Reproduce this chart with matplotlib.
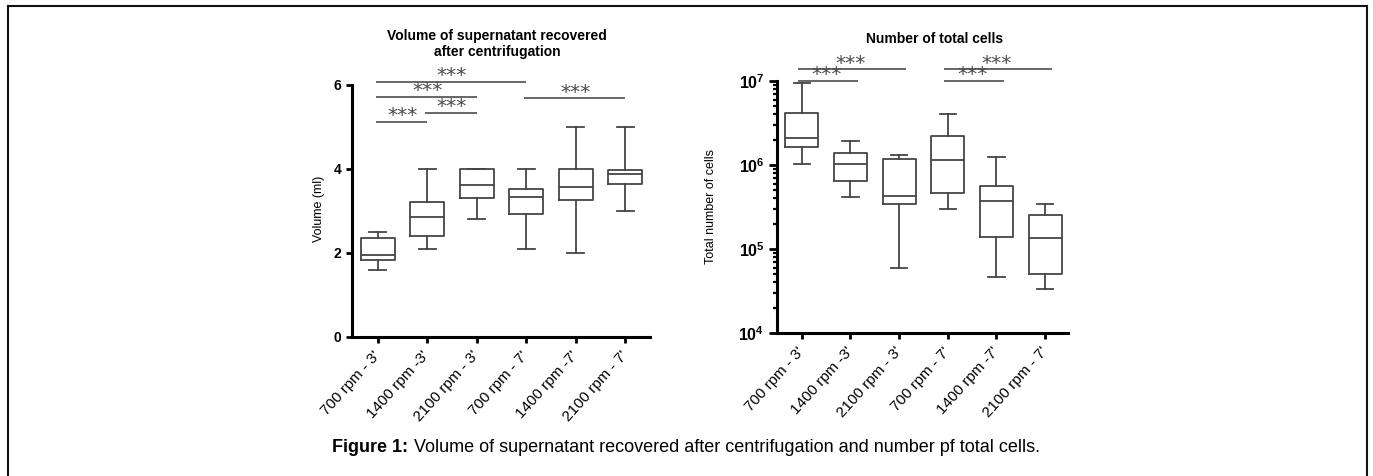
import math
import matplotlib
matplotlib.use('Agg')
import matplotlib.pyplot as plt
from matplotlib.lines import Line2D
from matplotlib.ticker import LogLocator, FixedLocator, NullFormatter, FuncFormatter

plt.rcParams['font.family'] = ['Liberation Sans', 'DejaVu Sans']
plt.rcParams['mathtext.fontset'] = 'custom'
plt.rcParams['mathtext.rm'] = 'Liberation Sans'
plt.rcParams['mathtext.bf'] = 'Liberation Sans:bold'

# ---------------- data ----------------
groups = ["700 rpm - 3'", "1400 rpm -3'", "2100 rpm - 3'",
          "700 rpm - 7'", "1400 rpm -7'", "2100 rpm - 7'"]

vol_whislo = [1.6, 2.1, 2.8, 2.1, 2.0, 3.0]
vol_q1 = [1.83, 2.40, 3.32, 2.94, 3.26, 3.64]
vol_med = [1.95, 2.86, 3.62, 3.33, 3.56, 3.87]
vol_q3 = [2.35, 3.21, 4.0, 3.52, 4.0, 3.98]
vol_whishi = [2.5, 4.0, 4.0, 4.0, 5.0, 5.0]

cell_whislo = [1.03e6, 4.2e5, 6.0e4, 3.0e5, 4.7e4, 3.3e4]
cell_q1 = [1.65e6, 6.5e5, 3.4e5, 4.7e5, 1.38e5, 5.0e4]
cell_med = [2.1e6, 1.02e6, 4.3e5, 1.15e6, 3.75e5, 1.35e5]
cell_q3 = [4.2e6, 1.4e6, 1.17e6, 2.2e6, 5.7e5, 2.55e5]
cell_whishi = [9.5e6, 1.93e6, 1.31e6, 4.1e6, 1.26e6, 3.45e5]

# significance brackets: (from group, to group, level)
vol_sig = [(1, 4, 6.08), (1, 3, 5.72), (2, 3, 5.34), (1, 2, 5.13), (4, 6, 5.68)]
cell_sig = [(1, 3, 1.38e7), (1, 2, 1.0e7), (4, 6, 1.38e7), (4, 5, 1.0e7)]
sig_label = '***'

vol_yticks = [0, 2, 4, 6]
cell_yticks = [1e4, 1e5, 1e6, 1e7]

# ---------------- figure ----------------
W, H = 1373, 476
fig = plt.figure(figsize=(W / 100, H / 100), dpi=100)

box_c = '#454545'
box_lw = 1.3
line_c = '#666666'
star_c = '#4a4a4a'


def style_axes(ax):
    for s in ['top', 'right']:
        ax.spines[s].set_visible(False)
    for s in ['left', 'bottom']:
        ax.spines[s].set_linewidth(2.2)
        ax.spines[s].set_color('black')
    ax.tick_params(axis='both', which='major', direction='out', width=2.0,
                   length=4.3, color='black')
    ax.tick_params(axis='y', which='minor', direction='out', width=1.6,
                   length=2.6, color='black')
    ax.set_xticks(range(1, len(groups) + 1))
    ax.set_xticklabels(groups, rotation=48, ha='right', va='center',
                       rotation_mode='anchor', fontsize=11)
    ax.tick_params(axis='x', pad=7.5)


def draw_boxes(ax, lo, q1, med, q3, hi):
    stats = [dict(whislo=a, q1=b, med=c, q3=d, whishi=e, fliers=[])
             for a, b, c, d, e in zip(lo, q1, med, q3, hi)]
    p = dict(color=box_c, linewidth=box_lw)
    ax.bxp(stats, positions=range(1, len(stats) + 1), widths=0.68,
           showfliers=False, boxprops=p, whiskerprops=p, capprops=p,
           medianprops=p)


def draw_sig(ax, sig, ext_l, ext_r):
    for i, j, y in sig:
        ax.plot([i - ext_l, j + ext_r], [y, y], color=line_c, lw=1.4,
                clip_on=False, solid_capstyle='butt')
        ax.annotate(sig_label, xy=((i + j) / 2, y), xytext=(0, 4.5),
                    textcoords='offset points', ha='center', va='center',
                    fontsize=14.5, color=star_c, family='DejaVu Sans',
                    annotation_clip=False)


# ---- left panel ----
axL = fig.add_axes([352 / W, 1 - 337 / H, 298 / W, 252 / H])
draw_boxes(axL, vol_whislo, vol_q1, vol_med, vol_q3, vol_whishi)
axL.set_xlim(0.48, 6.5)
axL.set_ylim(0, 6)
axL.set_yticks(vol_yticks)
style_axes(axL)
axL.set_yticklabels([str(v) for v in vol_yticks], fontsize=10,
                    fontweight='bold')
axL.set_ylabel('Volume (ml)', fontsize=9)
axL.yaxis.set_label_coords(-0.09, 0.51)
draw_sig(axL, vol_sig, 0.04, 0.0)

# ---- right panel ----
axR = fig.add_axes([777 / W, 1 - 333 / H, 291 / W, 252 / H])
draw_boxes(axR, cell_whislo, cell_q1, cell_med, cell_q3, cell_whishi)
axR.set_yscale('log')
axR.set_xlim(0.49, 6.47)
axR.set_ylim(1e4, 1e7)
axR.yaxis.set_major_locator(FixedLocator(cell_yticks))
axR.yaxis.set_minor_locator(LogLocator(base=10, subs=range(2, 10)))
axR.yaxis.set_minor_formatter(NullFormatter())
axR.yaxis.set_major_formatter(FuncFormatter(
    lambda v, p: r'$\mathbf{10^{%d}}$' % round(math.log10(v))))
style_axes(axR)
axR.tick_params(axis='y', which='major', length=5.5)
for t in axR.get_yticklabels():
    t.set_fontsize(11.5)
axR.set_ylabel('Total number of cells', fontsize=9)
axR.yaxis.set_label_coords(-0.206, 0.5)
draw_sig(axR, cell_sig, 0.08, 0.15)

# ---- titles ----
fig.text(497 / W, 1 - 44 / H, 'Volume of supernatant recovered\nafter centrifugation',
         ha='center', va='center', fontsize=10, fontweight='bold',
         linespacing=1.1)
fig.text(935 / W, 1 - 39 / H, 'Number of total cells', ha='center',
         va='center', fontsize=10, fontweight='bold')

# ---- frame (left, top, right) ----
for xs, ys in [([7.5, 7.5], [H + 5, 5.5]), ([7.5, 1367], [5.5, 5.5]),
               ([1367, 1367], [5.5, H + 5])]:
    fig.add_artist(Line2D([x / W for x in xs], [1 - y / H for y in ys],
                          transform=fig.transFigure, color='#111111', lw=1.5))

# ---- caption ----
cap_y = 1 - 447 / H
t1 = fig.text(0, cap_y, 'Figure 1:', ha='left', va='center', fontsize=13,
              fontweight='bold')
t2 = fig.text(0, cap_y, ' Volume of supernatant recovered after centrifugation and number pf total cells.',
              ha='left', va='center', fontsize=13)
fig.canvas.draw()
r = fig.canvas.get_renderer()
w1 = t1.get_window_extent(r).width
w2 = t2.get_window_extent(r).width
x0 = 686 - (w1 + w2) / 2
t1.set_x(x0 / W)
t2.set_x((x0 + w1) / W)

fig.savefig('out.png', dpi=100)
